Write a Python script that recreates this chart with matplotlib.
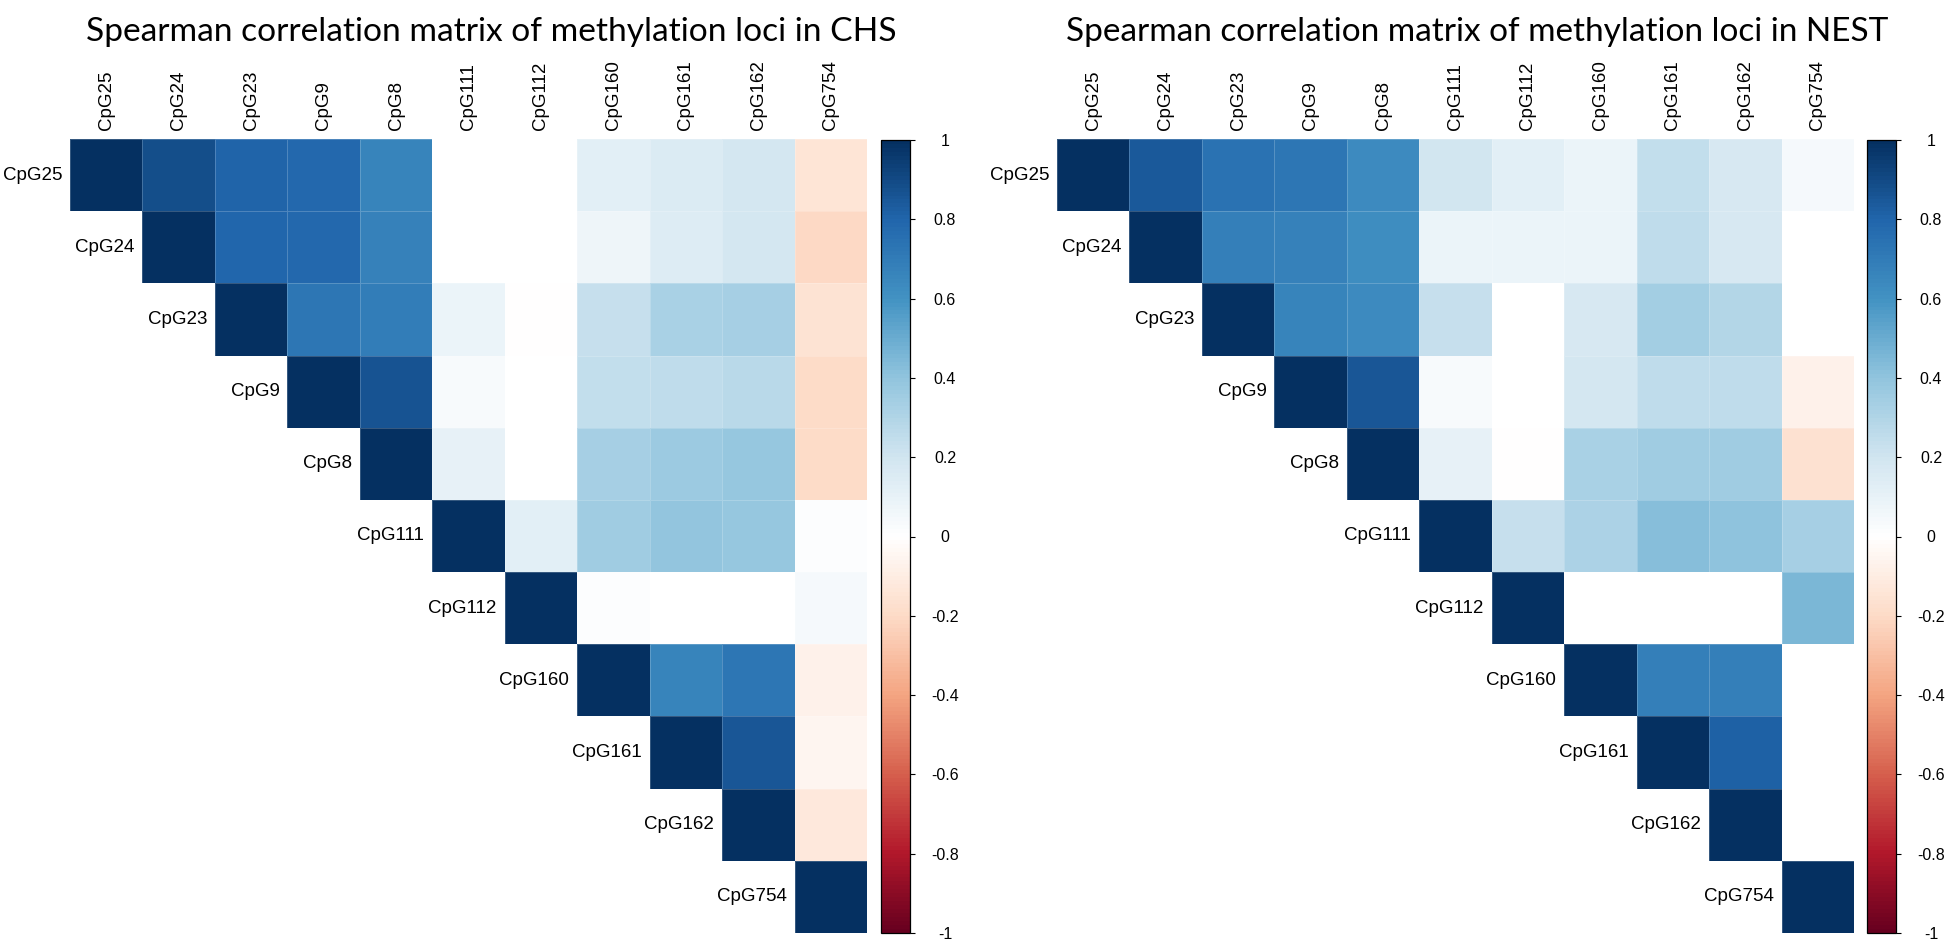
import numpy as np
import matplotlib
matplotlib.use("Agg")
import matplotlib.pyplot as plt
from matplotlib.colors import LinearSegmentedColormap, Normalize
import matplotlib.colorbar as mcolorbar

# ---------------- data ----------------
loci = ["CpG25", "CpG24", "CpG23", "CpG9", "CpG8", "CpG111",
        "CpG112", "CpG160", "CpG161", "CpG162", "CpG754"]

title_chs = "Spearman correlation matrix of methylation loci in CHS"
title_nest = "Spearman correlation matrix of methylation loci in NEST"

cbar_ticks = [1, 0.8, 0.6, 0.4, 0.2, 0, -0.2, -0.4, -0.6, -0.8, -1]
cbar_labels = ["1", "0.8", "0.6", "0.4", "0.2", "0", "-0.2", "-0.4", "-0.6", "-0.8", "-1"]

# upper triangle rows (starting at the diagonal); None = blank cell
chs_upper = [
    [1, 0.88, 0.80, 0.78, 0.66, None, None, 0.12, 0.16, 0.18, -0.15],
    [1, 0.79, 0.78, 0.67, None, None, 0.07, 0.15, 0.18, -0.21],
    [1, 0.72, 0.69, 0.08, -0.01, 0.23, 0.32, 0.33, -0.16],
    [1, 0.86, 0.03, None, 0.24, 0.25, 0.27, -0.20],
    [1, 0.10, None, 0.33, 0.36, 0.38, -0.20],
    [1, 0.13, 0.35, 0.39, 0.38, 0.01],
    [1, 0.01, None, None, 0.04],
    [1, 0.66, 0.72, -0.08],
    [1, 0.85, -0.06],
    [1, -0.13],
    [1],
]

nest_upper = [
    [1, 0.84, 0.74, 0.72, 0.63, 0.19, 0.12, 0.08, 0.24, 0.17, 0.04],
    [1, 0.68, 0.67, 0.62, 0.08, 0.08, 0.08, 0.25, 0.17, None],
    [1, 0.66, 0.63, 0.23, None, 0.17, 0.34, 0.29, None],
    [1, 0.85, 0.03, None, 0.18, 0.25, 0.25, -0.08],
    [1, 0.10, -0.01, 0.32, 0.35, 0.35, -0.17],
    [1, 0.23, 0.31, 0.42, 0.40, 0.33],
    [1, None, None, None, 0.45],
    [1, 0.68, 0.68, None],
    [1, 0.82, None],
    [1, None],
    [1],
]

# ---------------- style ----------------
W, H = 1946, 944
fig = plt.figure(figsize=(W / 100, H / 100), dpi=100)
fig.patch.set_facecolor("white")

cmap = LinearSegmentedColormap.from_list(
    "corrplot",
    ["#67001F", "#B2182B", "#D6604D", "#F4A582", "#FDDBC7", "#FFFFFF",
     "#D1E5F0", "#92C5DE", "#4393C3", "#2166AC", "#053061"], N=200)
cmap.set_bad("white")
norm = Normalize(vmin=-1, vmax=1)

label_font = "Liberation Sans"
label_size = 13.5


def to_matrix(upper):
    n = len(upper)
    m = np.full((n, n), np.nan)
    for i, row in enumerate(upper):
        for k, v in enumerate(row):
            if v is not None:
                m[i, i + k] = v
    return np.ma.masked_invalid(m)


def px_axes(x0, y0, x1, y1):
    return fig.add_axes([x0 / W, 1 - y1 / H, (x1 - x0) / W, (y1 - y0) / H])


def draw_panel(upper, hx0, cx0, title, title_cx):
    n = len(loci)
    ax = px_axes(hx0, 139, hx0 + 797, 933)
    m = to_matrix(upper)
    ax.pcolormesh(np.arange(n + 1), np.arange(n + 1), m, cmap=cmap, norm=norm,
                  edgecolors=(1, 1, 1, 0.2), linewidth=0.4)
    ax.set_xlim(0, n)
    ax.set_ylim(n, 0)
    ax.axis("off")
    for i, name in enumerate(loci):
        ax.text(i - 0.11, i + 0.5, name, ha="right", va="center",
                fontsize=label_size, family=label_font, color="black")
        ax.text(i + 0.5, -0.12, name, ha="center", va="bottom", rotation=90,
                fontsize=label_size, family=label_font, color="black")

    cax = px_axes(cx0, 140, cx0 + 29, 933)
    cb = mcolorbar.ColorbarBase(cax, cmap=cmap, norm=norm, ticks=cbar_ticks)
    cb.set_ticklabels(cbar_labels)
    cb.outline.set_linewidth(0.9)
    cb.outline.set_edgecolor("black")
    cax.tick_params(axis="y", length=3.6, width=0.8, pad=21.6, labelsize=11.5,
                    colors="black")
    for t in cax.get_yticklabels():
        t.set_horizontalalignment("center")
        t.set_family(label_font)

    t = fig.text(title_cx / W, 1 - 32 / H, title, ha="center", va="center",
                 fontsize=36, family="Lato", color="black")
    return t


t1 = draw_panel(chs_upper, 70, 881, title_chs, 491)
t2 = draw_panel(nest_upper, 1057, 1867, title_nest, 1477)

# fit title widths to reference
fig.canvas.draw()
r = fig.canvas.get_renderer()
for t, target in ((t1, 809), (t2, 823)):
    w = t.get_window_extent(r).width
    t.set_fontsize(36 * target / w)

fig.savefig("out.png", dpi=100, facecolor="white")
